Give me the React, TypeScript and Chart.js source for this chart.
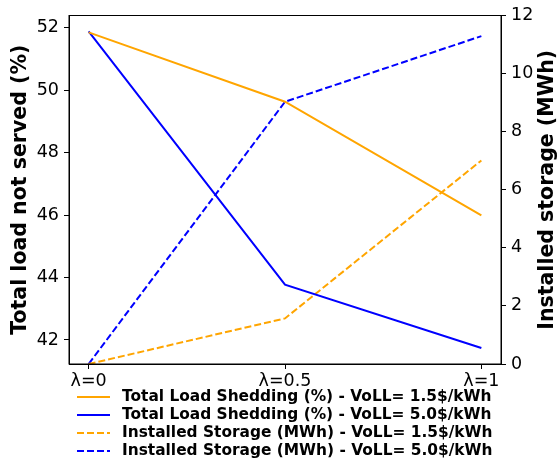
import { useEffect, useRef } from 'react';
import { Chart, registerables } from 'chart.js';

Chart.register(...registerables);

const xLabels = ['λ=0', 'λ=0.5', 'λ=1'];
const xPositions = [0, 1, 2];
const shedLow = [51.85, 49.63, 45.99];
const shedHigh = [51.88, 43.77, 41.74];
const storageLow = [0, 1.57, 7.01];
const storageHigh = [0, 9.03, 11.29];
const leftTicks = [42, 44, 46, 48, 50, 52];
const rightTicks = [0, 2, 4, 6, 8, 10, 12];
const seriesNames = [
    'Total Load Shedding (%) - VoLL= 1.5$/kWh',
    'Total Load Shedding (%) - VoLL= 5.0$/kWh',
    'Installed Storage (MWh) - VoLL= 1.5$/kWh',
    'Installed Storage (MWh) - VoLL= 5.0$/kWh',
];

const ORANGE = '#ffa500';
const BLUE = '#0000ff';
const FONT = "'DejaVu Sans', sans-serif";

const toPoints = (vals: number[]) => vals.map((v, i) => ({ x: xPositions[i], y: v }));

// frame, right-hand title (bottom-to-top) and the legend under the plot
const extrasPlugin = {
    id: 'extras',
    afterDraw(chart: any) {
        const { ctx, chartArea } = chart;
        ctx.save();
        ctx.strokeStyle = '#000';
        ctx.lineWidth = 1;
        ctx.strokeRect(chartArea.left, chartArea.top, chartArea.right - chartArea.left, chartArea.bottom - chartArea.top);

        ctx.translate(548, (chartArea.top + chartArea.bottom) / 2);
        ctx.rotate(-Math.PI / 2);
        ctx.font = `bold 20.5px ${FONT}`;
        ctx.fillStyle = '#000';
        ctx.textAlign = 'center';
        ctx.textBaseline = 'middle';
        ctx.fillText('Installed storage (MWh)', 0, 0);
        ctx.restore();

        ctx.save();
        ctx.font = `bold 15.4px ${FONT}`;
        ctx.textBaseline = 'middle';
        ctx.textAlign = 'left';
        chart.data.datasets.forEach((ds: any, i: number) => {
            const y = 397 + i * 18;
            ctx.strokeStyle = ds.borderColor;
            ctx.lineWidth = ds.borderWidth;
            ctx.setLineDash(ds.borderDash || []);
            ctx.beginPath();
            ctx.moveTo(77, y);
            ctx.lineTo(110, y);
            ctx.stroke();
            ctx.setLineDash([]);
            ctx.fillStyle = '#000';
            ctx.fillText(ds.label, 122, y);
        });
        ctx.restore();
    }
};

const App = () => {
    const canvasRef = useRef<HTMLCanvasElement | null>(null);
    const chartRef = useRef<Chart | null>(null);

    useEffect(() => {
        if (!canvasRef.current) return;
        if (chartRef.current) chartRef.current.destroy();

        const tickStyle = {
            color: '#000',
            font: { family: FONT, size: 17.5 },
        };

        chartRef.current = new Chart(canvasRef.current, {
            type: 'line',
            data: {
                datasets: [
                    { label: seriesNames[0], data: toPoints(shedLow), borderColor: ORANGE, borderWidth: 2, yAxisID: 'y', pointRadius: 0 },
                    { label: seriesNames[1], data: toPoints(shedHigh), borderColor: BLUE, borderWidth: 2, yAxisID: 'y', pointRadius: 0 },
                    { label: seriesNames[2], data: toPoints(storageLow), borderColor: ORANGE, borderWidth: 2, borderDash: [7, 3], yAxisID: 'y1', pointRadius: 0 },
                    { label: seriesNames[3], data: toPoints(storageHigh), borderColor: BLUE, borderWidth: 2, borderDash: [7, 3], yAxisID: 'y1', pointRadius: 0 },
                ]
            },
            options: {
                responsive: false,
                animation: false,
                layout: { padding: { top: 7, bottom: 72, left: 0, right: 0 } },
                plugins: {
                    legend: { display: false },
                    tooltip: { enabled: false },
                },
                scales: {
                    x: {
                        type: 'linear',
                        min: -0.1,
                        max: 2.1,
                        grid: { drawOnChartArea: false, tickLength: 5, color: '#000' },
                        border: { display: true, color: '#000', width: 1 },
                        ticks: {
                            ...tickStyle,
                            padding: 2,
                            maxRotation: 0,
                            callback: (v: any) => xLabels[v] ?? '',
                        },
                        afterBuildTicks: (s: any) => { s.ticks = xPositions.map(v => ({ value: v })); },
                        afterFit: (s: any) => { s.height = 30; },
                    },
                    y: {
                        position: 'left',
                        min: 41.23,
                        max: 52.39,
                        grid: { drawOnChartArea: false, tickLength: 5, color: '#000' },
                        border: { display: true, color: '#000', width: 1 },
                        ticks: { ...tickStyle, padding: 5 },
                        afterBuildTicks: (s: any) => { s.ticks = leftTicks.map(v => ({ value: v })); },
                        afterFit: (s: any) => { s.width = 69; },
                        title: {
                            display: true,
                            text: 'Total load not served (%)',
                            color: '#000',
                            font: { family: FONT, size: 20.5, weight: 'bold' },
                            padding: { top: 8, bottom: 0 },
                        },
                    },
                    y1: {
                        position: 'right',
                        min: 0,
                        max: 12,
                        grid: { drawOnChartArea: false, tickLength: 5, color: '#000' },
                        border: { display: true, color: '#000', width: 1 },
                        ticks: { ...tickStyle, padding: 5 },
                        afterBuildTicks: (s: any) => { s.ticks = rightTicks.map(v => ({ value: v })); },
                        afterFit: (s: any) => { s.width = 57; },
                    },
                }
            },
            plugins: [extrasPlugin],
        } as any);

        return () => {
            if (chartRef.current) {
                chartRef.current.destroy();
                chartRef.current = null;
            }
        };
    }, []);

    return <div style={{ position: 'absolute', left: 0, top: 0, width: 558, height: 466, background: '#fff' }}>
        <canvas ref={canvasRef} width={558} height={466}></canvas>
    </div>;
};

export default App;
